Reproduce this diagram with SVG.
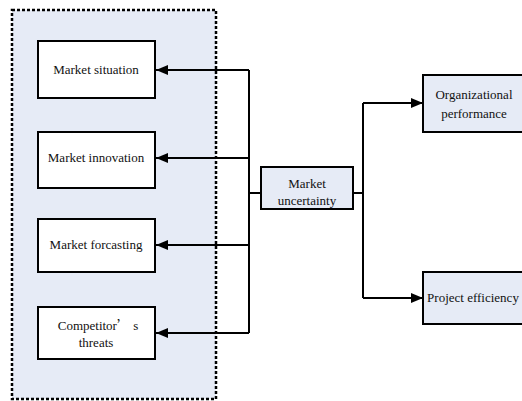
<svg xmlns="http://www.w3.org/2000/svg" width="522" height="401" viewBox="0 0 522 401">
<style>
text{font-family:'Liberation Serif','Times New Roman',serif;font-size:13px;fill:#111;text-anchor:middle}
.w{fill:#fff;stroke:#000;stroke-width:2}
.b{fill:#e6ebf6;stroke:#000;stroke-width:2}
.c{fill:none;stroke:#000;stroke-width:2}
.cjk{font-family:'Noto Sans CJK SC',sans-serif}
</style>
<defs>
<marker id="ah" viewBox="0 0 12 10" refX="12" refY="5" markerWidth="12" markerHeight="10" markerUnits="userSpaceOnUse" orient="auto">
<path d="M0,0 L12,5 L0,10 Z" fill="#000"/>
</marker>
</defs>
<rect width="522" height="401" fill="#fff"/>
<g id="group">
<rect x="12" y="10" width="204" height="389" fill="#e6ebf6" stroke="#000" stroke-width="2.5" stroke-dasharray="3,2"/>
</g>
<g id="connectors">
<path class="c" d="M249,70 V333"/>
<path class="c" d="M249,70 H156" marker-end="url(#ah)"/>
<path class="c" d="M249,158 H156" marker-end="url(#ah)"/>
<path class="c" d="M249,245 H156" marker-end="url(#ah)"/>
<path class="c" d="M249,333 H156" marker-end="url(#ah)"/>
<path class="c" d="M249,193 H261"/>
<path class="c" d="M353,193 H363"/>
<path class="c" d="M363,103 V298"/>
<path class="c" d="M363,103 H423" marker-end="url(#ah)"/>
<path class="c" d="M363,298 H423" marker-end="url(#ah)"/>
</g>
<g id="market-situation">
<rect class="w" x="38" y="41" width="117" height="57"/>
<text x="96" y="74">Market situation</text>
</g>
<g id="market-innovation">
<rect class="w" x="38" y="132" width="117" height="56"/>
<text x="96" y="162">Market innovation</text>
</g>
<g id="market-forcasting">
<rect class="w" x="38" y="219" width="117" height="53"/>
<text x="96" y="249">Market forcasting</text>
</g>
<g id="competitors-threats">
<rect class="w" x="38" y="307" width="117" height="52"/>
<text x="98" y="330">Competitor<tspan class="cjk">’</tspan> s</text>
<text x="96" y="347">threats</text>
</g>
<g id="market-uncertainty">
<rect class="b" x="261" y="167" width="92" height="42"/>
<text x="307" y="188">Market</text>
<text x="307" y="205">uncertainty</text>
</g>
<g id="organizational-performance">
<rect class="b" x="423" y="75" width="102" height="57"/>
<text x="474" y="99">Organizational</text>
<text x="474" y="118">performance</text>
</g>
<g id="project-efficiency">
<rect class="b" x="423" y="272" width="102" height="52"/>
<text x="473" y="302">Project efficiency</text>
</g>
</svg>
